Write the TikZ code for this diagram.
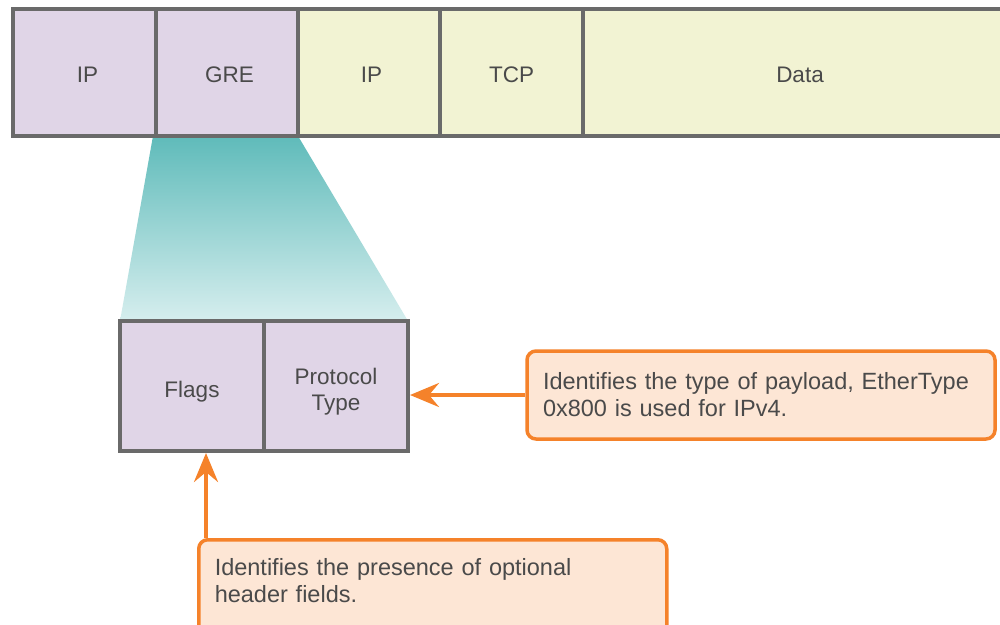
\documentclass[tikz,border=0pt]{standalone}
\usepackage{fontspec}
\setmainfont{Liberation Sans}
\usetikzlibrary{arrows.meta}
\definecolor{hdrpurple}{HTML}{E0D5E7}
\definecolor{hdryellow}{HTML}{F2F3D3}
\definecolor{edgegray}{HTML}{6A6A6A}
\definecolor{txtgray}{HTML}{4A4A4A}
\definecolor{teal1}{HTML}{5FBBBA}
\definecolor{teal2}{HTML}{D6EEEE}
\definecolor{callorange}{HTML}{F5822A}
\definecolor{callfill}{HTML}{FDE6D5}
\newcommand{\lowerby}[2]{\raisebox{-#1}[\height][\depth]{#2}}
\begin{document}
\begin{tikzpicture}[x=1pt,y=-1pt,
  cell/.style={draw=edgegray, line width=4pt, minimum height=127pt, inner sep=0pt, text=txtgray, font=\fontsize{22.5}{26}\selectfont},
  purp/.style={cell, fill=hdrpurple},
  yell/.style={cell, fill=hdryellow},
  callout/.style={draw=callorange, fill=callfill, line width=3.5pt, rounded corners=9pt, text=txtgray, align=left, font=\fontsize{23.5}{27}\selectfont},
  callarrow/.style={draw=callorange, line width=4pt, -{Stealth[length=29pt,width=24pt,inset=10pt]}}]
\clip (0,0) rectangle (1000,624);
\fill[white] (0,0) rectangle (1000,624);
% zoom trapezoid
\shade[top color=teal1, bottom color=teal2] (153,136) -- (298,136) -- (408,321) -- (120,321) -- cycle;
% top header bar
\node[purp, minimum width=143pt] (ip1) at (84.5,72.5) {\lowerby{2pt}{\hspace{6pt}IP}};
\node[purp, minimum width=142pt] (gre) at (227,72.5) {\lowerby{2pt}{\hspace{5pt}GRE}};
\node[yell, minimum width=142pt] (ip2) at (369,72.5) {\lowerby{2pt}{\hspace{5pt}IP}};
\node[yell, minimum width=143pt] (tcp) at (511.5,72.5) {\lowerby{2pt}{TCP}};
\node[yell, minimum width=434pt] (data) at (800,72.5) {\lowerby{2pt}{Data}};
% GRE header fields
\node[purp, minimum width=144pt, minimum height=130pt] (flags) at (192,386) {\lowerby{6pt}{Flags}};
\node[purp, minimum width=144pt, minimum height=130pt] (proto) at (336,386) {\lowerby{6.5pt}{\begin{tabular}{@{}c@{}}Protocol\\Type\end{tabular}}};
% callouts
\node[callout, inner sep=0pt, minimum width=468pt, minimum height=88pt, text width=436pt] (c1) at (761,395) {Identifies the type of payload, EtherType\\0x800 is used for IPv4.};
\node[callout, inner xsep=16pt, inner ysep=19pt, minimum width=468pt, text width=436pt, anchor=north west] (c2) at (197,538) {Identifies the presence of optional\\header fields.\\[6pt]\mbox{}};
\coordinate (c2a) at ([xshift=9pt]c2.north west);
\draw[callarrow] (c1.west) -- (c1.west -| proto.east);
\draw[callarrow] (c2a) -- (c2a |- flags.south);
\end{tikzpicture}
\end{document}
